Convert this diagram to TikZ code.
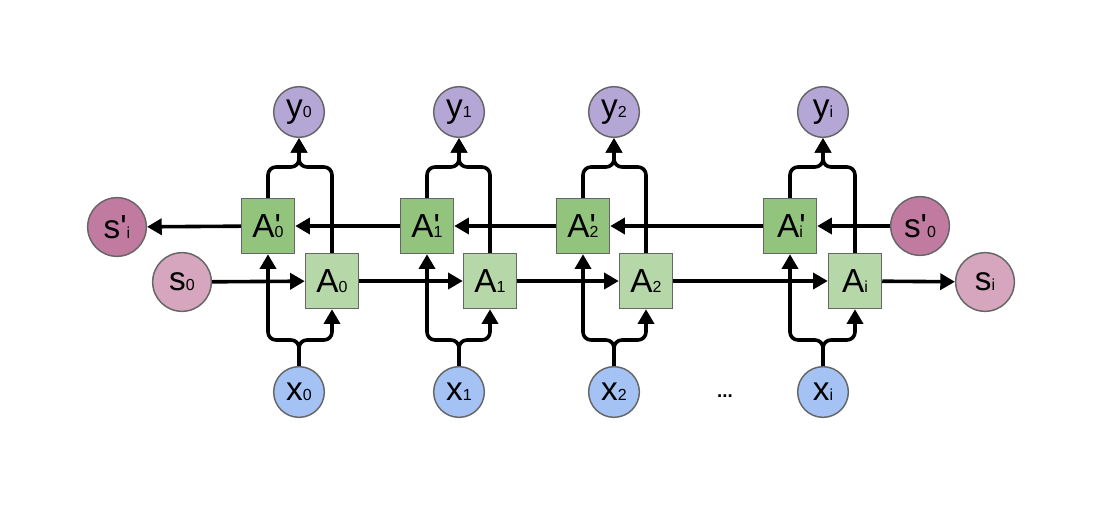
\documentclass[tikz,border=0pt]{standalone}
\usepackage{fontspec}
\newfontfamily\lab{Liberation Sans}
\usetikzlibrary{arrows.meta}
\definecolor{cy}{HTML}{B4A7D6}
\definecolor{cx}{HTML}{A4C2F4}
\definecolor{cs}{HTML}{D5A6BD}
\definecolor{csp}{HTML}{C27BA0}
\definecolor{cap}{HTML}{93C47D}
\definecolor{ca}{HTML}{B6D7A8}
\definecolor{bordc}{HTML}{666666}
\newcommand\sbs[1]{{\fontsize{12}{12}\selectfont #1}}
\begin{document}
\begin{tikzpicture}[x=0.75pt,y=-0.75pt,
  base/.style={draw=bordc, line width=1.1pt, inner sep=0pt, font=\lab\fontsize{25}{28}\selectfont},
  circ/.style={base, circle, minimum size=38pt},
  bigcirc/.style={base, circle, minimum size=44pt},
  box/.style={base, rectangle, minimum width=39.75pt, minimum height=41.25pt},
  link/.style={line width=2.7pt, -{Triangle[length=11pt,width=12pt]}, rounded corners=6pt}]
\useasboundingbox (0,0) rectangle (1120,514);
\foreach \n/\a/\b/\c in {0/268/332/299, 1/427/490/459, 2/583/646/614, i/790/855/823}{
  \node[box, fill=cap] (Ap\n) at (\a,226) {A\rlap{'}\sbs{\n}};
  \node[box, fill=ca] (A\n) at (\b,281) {A\sbs{\n}};
  \node[circ, fill=cy] (y\n) at (\c,112) {y\sbs{\n}};
  \node[circ, fill=cx] (x\n) at (\c,392) {x\sbs{\n}};
  \coordinate (t\n) at (\c,167);
  \coordinate (b\n) at (\c,340);
  \draw[link] (x\n.north) -- (b\n) -| (Ap\n.south);
  \draw[link] (x\n.north) -- (b\n) -| (A\n.south);
  \draw[link] (Ap\n.north) |- (t\n) -- (y\n.south);
  \draw[link] (A\n.north) |- (t\n) -- (y\n.south);
}
\node[bigcirc, fill=csp] (spi) at (117,227) {s'\sbs{i}};
\node[bigcirc, fill=cs] (s0) at (182,282) {s\sbs{0}};
\node[bigcirc, fill=csp] (sp0) at (920,226) {s'\sbs{0}};
\node[bigcirc, fill=cs] (si) at (985,282) {s\sbs{i}};
\node[font=\lab\bfseries\fontsize{14}{14}\selectfont] (dots) at (725,396) {...};
\draw[link] (s0) -- (A0);
\draw[link] (A0) -- (A1);
\draw[link] (A1) -- (A2);
\draw[link] (A2) -- (Ai);
\draw[link] (Ai) -- (si);
\draw[link] (sp0) -- (Api);
\draw[link] (Api) -- (Ap2);
\draw[link] (Ap2) -- (Ap1);
\draw[link] (Ap1) -- (Ap0);
\draw[link] (Ap0) -- (spi);
\end{tikzpicture}
\end{document}
